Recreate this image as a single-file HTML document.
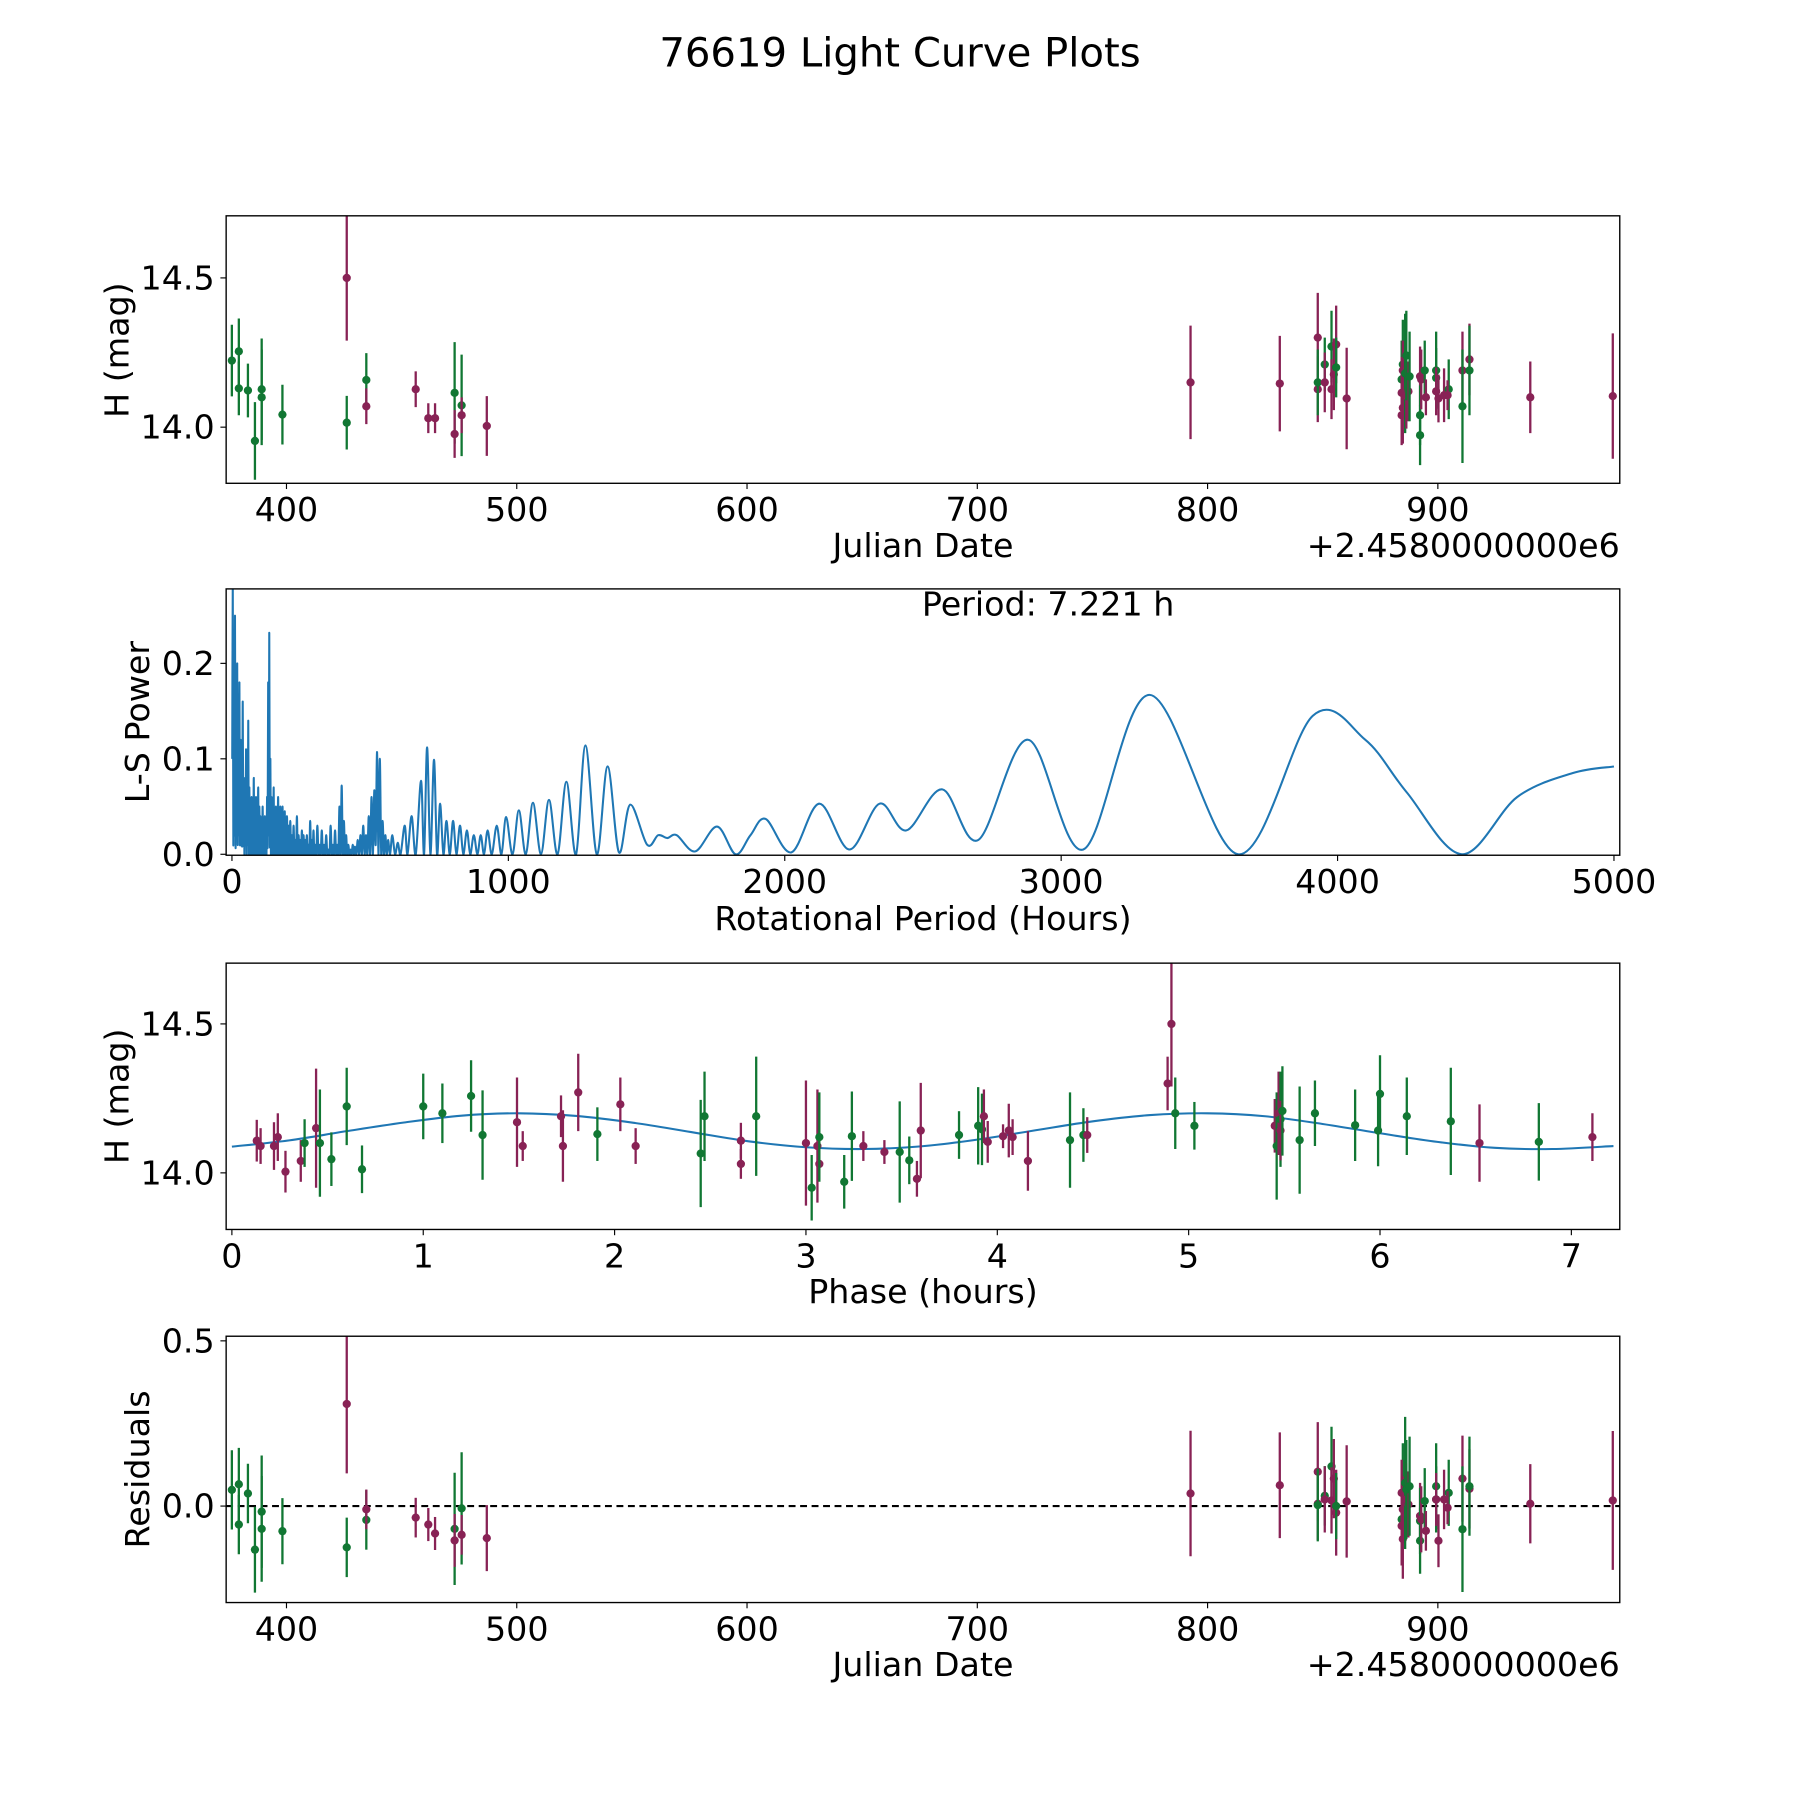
<!DOCTYPE html>
<html><head><meta charset="utf-8"><style>
html,body{margin:0;padding:0;background:#fff}
svg{display:block}
text{font-family:"DejaVu Sans","Liberation Sans",sans-serif;fill:#000}
</style></head>
<body>
<svg id="fig" width="1800" height="1800" viewBox="0 0 1568 1568" xmlns="http://www.w3.org/2000/svg">
<rect width="1568" height="1568" fill="#fff"/>
<text x="784" y="58" font-size="35" text-anchor="middle">76619 Light Curve Plots</text>
</svg>
<script>
// ---- Panel 1 / 4 data: Julian date offset, magnitude, error, filter (g=green, m=maroon)
const jdDates = [376.28,379.31,379.31,383.26,386.30,389.23,389.23,398.24,426.17,426.17,434.67,434.67,456.12,461.59,464.52,473.02,473.02,476.06,476.06,486.99,
792.60,831.36,847.85,847.85,847.85,850.89,850.89,853.82,853.82,854.83,855.84,855.84,860.40,
884.28,884.79,884.28,884.79,884.28,884.79,885.80,886.31,887.22,886.31,887.72,892.28,892.28,892.28,892.78,894.30,894.81,899.26,899.26,899.26,900.27,902.70,904.72,904.22,910.69,910.69,913.73,913.73,940.14,975.97];
const jdMags = [14.223,14.254,14.13,14.123,13.954,14.127,14.1,14.042,14.5,14.015,14.158,14.07,14.127,14.03,14.03,14.115,13.977,14.073,14.04,14.004,
14.15,14.146,14.3,14.127,14.15,14.21,14.15,14.27,14.127,14.177,14.277,14.2,14.096,
14.16,14.21,14.115,14.065,14.04,14.19,14.18,14.105,14.12,14.24,14.17,14.17,14.04,13.973,14.16,14.19,14.1,14.19,14.165,14.12,14.096,14.107,14.127,14.107,14.19,14.07,14.227,14.19,14.1,14.104];
const jdErrs = [0.12,0.11,0.09,0.09,0.13,0.17,0.16,0.1,0.21,0.09,0.09,0.06,0.06,0.05,0.05,0.17,0.08,0.17,0.06,0.1,
0.19,0.16,0.15,0.11,0.11,0.09,0.1,0.12,0.1,0.12,0.13,0.1,0.17,
0.13,0.15,0.12,0.12,0.1,0.1,0.2,0.11,0.1,0.15,0.15,0.1,0.1,0.1,0.1,0.1,0.06,0.13,0.1,0.08,0.08,0.09,0.1,0.05,0.13,0.19,0.12,0.15,0.12,0.21];
const jdBands = ['g','g','g','g','g','g','g','g','m','g','g','m','m','m','m','g','m','g','m','m',
'm','m','m','m','g','g','m','g','m','m','m','g','m',
'g','g','m','m','m','m','g','m','m','g','g','m','g','g','m','g','m','g','g','m','m','m','g','m','m','g','m','g','m','m'];
const residuals = [0.049,0.066,-0.056,0.038,-0.132,-0.017,-0.069,-0.076,0.309,-0.125,-0.042,-0.01,-0.035,-0.056,-0.083,-0.069,-0.104,-0.007,-0.087,-0.097,
0.038,0.063,0.104,0.007,0.003,0.031,0.02,0.12,0.017,0.083,-0.02,0.0,0.014,
-0.04,0.04,-0.06,-0.1,0.04,-0.01,0.07,0.02,0.005,0.05,0.06,-0.03,-0.105,-0.045,-0.04,0.015,-0.075,0.06,0.02,0.02,-0.105,0.02,0.04,-0.005,0.083,-0.07,0.052,0.06,0.007,0.017];

// ---- Panel 3 data: phase (hours), magnitude, filter
const phases = [0.13,0.15,0.22,0.24,0.28,0.36,0.38,0.44,0.46,0.52,0.6,0.68,1.0,1.1,1.25,1.31,1.49,1.52,1.72,1.73,1.81,1.91,2.03,2.11,2.45,2.47,2.66,2.66,2.74,3.0,3.03,3.06,3.07,3.07,3.2,3.24,3.3,3.41,3.49,3.54,3.58,3.6,3.8,3.9,3.92,3.93,3.95,4.03,4.06,4.08,4.16,4.38,4.45,4.47,4.89,4.91,4.93,5.03,5.45,5.46,5.47,5.48,5.48,5.49,5.58,5.66,5.87,5.99,6.0,6.14,6.37,6.52,6.83,7.11];
const phaseMags = [14.108,14.09,14.09,14.12,14.004,14.04,14.1,14.15,14.1,14.046,14.223,14.012,14.223,14.2,14.258,14.127,14.17,14.09,14.19,14.09,14.27,14.13,14.23,14.09,14.065,14.19,14.108,14.03,14.19,14.1,13.95,14.09,14.03,14.12,13.97,14.123,14.09,14.07,14.07,14.042,13.98,14.142,14.127,14.158,14.146,14.19,14.104,14.123,14.142,14.12,14.04,14.11,14.127,14.127,14.3,14.5,14.2,14.158,14.158,14.09,14.2,14.18,14.142,14.208,14.11,14.2,14.16,14.142,14.265,14.19,14.173,14.1,14.104,14.12];
const phaseErrs = [0.07,0.06,0.08,0.08,0.07,0.07,0.08,0.2,0.18,0.09,0.13,0.08,0.11,0.1,0.12,0.15,0.15,0.05,0.07,0.12,0.13,0.09,0.09,0.06,0.18,0.15,0.06,0.05,0.2,0.21,0.11,0.19,0.05,0.15,0.09,0.15,0.05,0.04,0.17,0.08,0.06,0.16,0.08,0.13,0.12,0.09,0.07,0.04,0.09,0.06,0.1,0.16,0.09,0.06,0.09,0.21,0.12,0.08,0.09,0.18,0.14,0.16,0.1,0.15,0.18,0.11,0.12,0.12,0.13,0.13,0.18,0.13,0.13,0.08];
const phaseBands = ['m','m','m','m','m','m','g','m','g','g','g','g','g','g','g','g','m','m','m','m','m','g','m','m','g','g','m','m','g','m','g','m','m','g','g','g','m','m','g','g','m','m','g','g','g','m','m','m','m','m','m','g','g','m','m','m','g','g','m','g','m','g','m','g','g','g','g','g','g','g','g','m','g','m'];
const fitPhase = [0,0.3,0.6,0.9,1.2,1.5,1.8,2.1,2.4,2.7,3.0,3.3,3.6,3.9,4.2,4.5,4.8,5.1,5.4,5.7,6.0,6.3,6.6,6.9,7.22];
const fitMag = [14.088,14.109,14.14,14.169,14.192,14.2,14.191,14.168,14.137,14.106,14.086,14.08,14.089,14.112,14.143,14.173,14.194,14.2,14.19,14.164,14.133,14.104,14.084,14.08,14.09];

// ---- Panel 2 data: Lomb-Scargle periodogram (period hours, power)
const lsPeriods = [
1,3,5,7,9,11,13,15,17,19,
21,23,25,27,29,31,33,35,37,39,
41,43,45,47,49,51,53,55,57,59,
61,63,65,67,69,71,73,75,77,79,
81,83,85,87,89,91,93,95,97,99,
101,103,105,107,109,111,113,115,117,119,
121,123,125,127,129,131,133,135,137,139,
141,143,145,147,149,151,153,155,157,159,
161,163,165,167,169,171,173,175,177,179,
181,183,185,187,189,191,193,195,197,199,
202,205,208,211,214,217,220,223,226,229,
232,235,238,241,244,247,250,253,256,259,
262,265,268,271,274,277,280,283,286,289,
292,295,298,301,
305,309,313,317,321,325,329,333,337,341,
345,349,353,357,361,365,369,373,377,381,
385,389,393,397,401,405,409,413,417,421,
425,429,433,437,441,445,
450,455,460,465,470,475,480,485,490,495,
500,505,510,515,520,525,530,535,540,545,
550,555,560,565,
572,580,590,600,610,625,635,650,665,684,
695,706,718,731,742,753,765,776,788,800,
812,825,837,850,862,875,888,900,912,925,
940,958,975,992,1015,1038,1063,1089,1118,1147,
1178,1210,1245,1279,1320,1359,1400,1441,1502,1542,
1575,1609,1676,1755,1822,1876,1931,2024,2125,2234,
2343,2440,2570,2700,2880,3080,3320,3640,3910,4100,
4250,4450,4650,4850,5000];
const lsPowers = [
0.1,0.28,0.01,0.19,0.02,0.25,0.01,0.1,0.02,0.2,
0.01,0.15,0.02,0.18,0.01,0.12,0.01,0.07,0.01,0.16,
0.01,0.08,0.0,0.07,0.01,0.11,0.0,0.1,0.01,0.14,
0.0,0.07,0.0,0.05,0.0,0.06,0.0,0.03,0.0,0.08,
0.0,0.04,0.0,0.06,0.0,0.04,0.0,0.07,0.0,0.05,
0.0,0.04,0.0,0.03,0.0,0.05,0.0,0.035,0.0,0.04,
0.0,0.03,0.0,0.06,0.01,0.18,0.02,0.232,0.01,0.1,
0.0,0.06,0.0,0.045,0.0,0.07,0.0,0.04,0.0,0.05,
0.0,0.03,0.0,0.06,0.0,0.04,0.0,0.05,0.0,0.03,
0.0,0.05,0.0,0.03,0.0,0.045,0.0,0.025,0.0,0.04,
0.0,0.03,0.0,0.035,0.0,0.02,0.0,0.03,0.0,0.015,
0.0,0.04,0.0,0.02,0.0,0.015,0.0,0.025,0.0,0.02,
0.0,0.015,0.0,0.02,0.0,0.01,0.0,0.035,0.0,0.015,
0.0,0.025,0.0,0.01,
0.0,0.03,0.0,0.01,0.0,0.025,0.0,0.01,0.0,0.02,
0.0,0.005,0.0,0.03,0.0,0.01,0.0,0.025,0.0,0.01,
0.0,0.05,0.0,0.072,0.0,0.035,0.0,0.02,0.0,0.01,
0.0,0.005,0.0,0.01,0.0,0.008,
0.0,0.015,0.0,0.02,0.0,0.03,0.0,0.02,0.0,0.04,
0.0,0.06,0.0,0.067,0.01,0.107,0.0,0.1,0.0,0.035,
0.0,0.02,0.0,0.015,
0.0,0.02,0.0,0.012,0.0,0.03,0.0,0.04,0.0,0.077,
0.0,0.112,0.0,0.099,0.0,0.053,0.0,0.035,0.0,0.035,
0.0,0.03,0.0,0.025,0.0,0.02,0.0,0.02,0.0,0.025,
0.0,0.03,0.0,0.039,0.0,0.046,0.0,0.054,0.0,0.057,
0.0,0.076,0.0,0.114,0.0,0.092,0.002,0.052,0.01,0.02,
0.017,0.02,0.003,0.029,0.0,0.02,0.037,0.002,0.053,0.005,
0.053,0.025,0.068,0.015,0.12,0.005,0.167,0.0,0.145,0.12,
0.065,0.0,0.06,0.085,0.092];

// ---- Axis tick labels
const jdTicks = [400,500,600,700,800,900];
const magTicks = [14.0,14.5];
const lsXTicks = [0,1000,2000,3000,4000,5000];
const lsYTicks = [0.0,0.1,0.2];
const phaseTicks = [0,1,2,3,4,5,6,7];
const resTicks = [0.0,0.5];

const NS = 'http://www.w3.org/2000/svg';
const svg = document.getElementById('fig');
const GREEN = '#117733', MAROON = '#882255', BLUE = '#1f77b4';
const TICKFS = 29, LABFS = 29;
function mk(tag, attrs, parent){const e=document.createElementNS(NS,tag);for(const k in attrs)e.setAttribute(k,attrs[k]);(parent||svg).appendChild(e);return e;}
function lin(d0,d1,r0,r1){return v=>r0+(v-d0)*(r1-r0)/(d1-d0);}

const L=197,R=1411;
function makeAxes(name,top,bottom,xd,yd){
  const g=mk('g',{});
  
  
  const cid='clip-'+name;
  const cp=mk('clipPath',{id:cid},g);mk('rect',{x:L,y:top,width:R-L,height:bottom-top},cp);
  const plot=mk('g',{'clip-path':'url(#'+cid+')'},g);
  return {g,plot,top,bottom,x:lin(xd[0],xd[1],L,R),y:lin(yd[0],yd[1],bottom,top)};
}
function frame(ax){
  const f=mk('rect',{x:L,y:ax.top,width:R-L,height:ax.bottom-ax.top,fill:'none',stroke:'#000','stroke-width':1.2},ax.g);
  
  
}
function xticks(ax,ticks,fmt,name){
  const g=mk('g',{},ax.g);
  
  
  ticks.forEach(t=>{const px=ax.x(t);
    mk('line',{x1:px,x2:px,y1:ax.bottom,y2:ax.bottom+5,stroke:'#000','stroke-width':1},g);
    const tx=mk('text',{x:px,y:ax.bottom+33,'font-size':TICKFS,'text-anchor':'middle'},g);tx.textContent=fmt(t);});
}
function yticks(ax,ticks,fmt,name){
  const g=mk('g',{},ax.g);
  
  
  ticks.forEach(t=>{const py=ax.y(t);
    mk('line',{x1:L-5,x2:L,y1:py,y2:py,stroke:'#000','stroke-width':1},g);
    const tx=mk('text',{x:L-10,y:py+10,'font-size':TICKFS,'text-anchor':'end'},g);tx.textContent=fmt(t);});
}
function label(ax,txt,x,y,rot,name,anchor){
  const t=mk('text',{x:x,y:y,'font-size':LABFS,'text-anchor':anchor||'middle'},ax.g);
  if(rot)t.setAttribute('transform','rotate(-90 '+x+' '+y+')');
  
  
  t.textContent=txt;
}
function errpts(ax,xs,ys,es,bands,name){
  const g=mk('g',{},ax.plot);
  
  
  xs.forEach((xv,i)=>{const c=bands[i]==='g'?GREEN:MAROON;const px=ax.x(xv);
    const ln=mk('line',{x1:px,x2:px,y1:ax.y(ys[i]-es[i]),y2:ax.y(ys[i]+es[i]),stroke:c,'stroke-width':2},g);
    
    
    const p=mk('circle',{cx:px,cy:ax.y(ys[i]),r:3.6,fill:c},g);
    
    
  });
}
function smoothPath(pts){
  let d='M'+pts[0][0]+','+pts[0][1];
  for(let i=0;i<pts.length-1;i++){
    const p0=pts[i-1]||pts[i],p1=pts[i],p2=pts[i+1],p3=pts[i+2]||p2;
    const c1=[p1[0]+(p2[0]-p0[0])/6,p1[1]+(p2[1]-p0[1])/6];
    const c2=[p2[0]-(p3[0]-p1[0])/6,p2[1]-(p3[1]-p1[1])/6];
    d+='C'+c1[0].toFixed(2)+','+c1[1].toFixed(2)+' '+c2[0].toFixed(2)+','+c2[1].toFixed(2)+' '+p2[0].toFixed(2)+','+p2[1].toFixed(2);
  }
  return d;
}

// Panel 1
const a1=makeAxes('light-curve-axes',188,421,[373.8,979],[13.812,14.708]);
errpts(a1,jdDates,jdMags,jdErrs,jdBands,'light-curve-points');
frame(a1);
xticks(a1,jdTicks,t=>String(t),'x-ticks-julian');
yticks(a1,magTicks,t=>t.toFixed(1),'y-ticks-mag');
label(a1,'Julian Date',804,485,false,'x-axis-title-julian');
label(a1,'+2.4580000000e6',R,485,false,'x-offset-text','end');
label(a1,'H (mag)',112,305,true,'y-axis-title-mag');

// Panel 2
const a2=makeAxes('periodogram-axes',513,745,[-21,5021],[-0.001,0.278]);
const lsPts=lsPeriods.map((p,i)=>[a2.x(p),a2.y(lsPowers[i])]);
const lsLine=mk('path',{d:smoothPath(lsPts),fill:'none',stroke:BLUE,'stroke-width':1.8,'stroke-linejoin':'round'},a2.plot);


frame(a2);
xticks(a2,lsXTicks,t=>String(t),'x-ticks-period');
yticks(a2,lsYTicks,t=>t.toFixed(1),'y-ticks-power');
label(a2,'Rotational Period (Hours)',804,810,false,'x-axis-title-period');
label(a2,'L-S Power',130,629,true,'y-axis-title-power');
label(a2,'Period: 7.221 h',913,536,false,'period-annotation');

// Panel 3
const a3=makeAxes('phase-axes',839,1071,[-0.03,7.253],[13.81,14.704]);
const fitPts=fitPhase.map((p,i)=>[a3.x(p),a3.y(fitMag[i])]);
const fit=mk('path',{d:smoothPath(fitPts),fill:'none',stroke:BLUE,'stroke-width':1.8},a3.plot);


errpts(a3,phases,phaseMags,phaseErrs,phaseBands,'phase-points');
frame(a3);
xticks(a3,phaseTicks,t=>String(t),'x-ticks-phase');
yticks(a3,magTicks,t=>t.toFixed(1),'y-ticks-phase-mag');
label(a3,'Phase (hours)',804,1135,false,'x-axis-title-phase');
label(a3,'H (mag)',112,955,true,'y-axis-title-phase-mag');

// Panel 4
const a4=makeAxes('residuals-axes',1164,1396,[373.8,979],[-0.292,0.514]);
const zl=mk('line',{x1:L,x2:R,y1:a4.y(0),y2:a4.y(0),stroke:'#000','stroke-width':1.8,'stroke-dasharray':'6,4'},a4.plot);


errpts(a4,jdDates,residuals,jdErrs,jdBands,'residual-points');
frame(a4);
xticks(a4,jdTicks,t=>String(t),'x-ticks-residual-julian');
yticks(a4,resTicks,t=>t.toFixed(1),'y-ticks-residuals');
label(a4,'Julian Date',804,1460,false,'x-axis-title-residual-julian');
label(a4,'+2.4580000000e6',R,1460,false,'x-offset-text-residual','end');
label(a4,'Residuals',130,1280,true,'y-axis-title-residuals');
</script>
</body></html>
